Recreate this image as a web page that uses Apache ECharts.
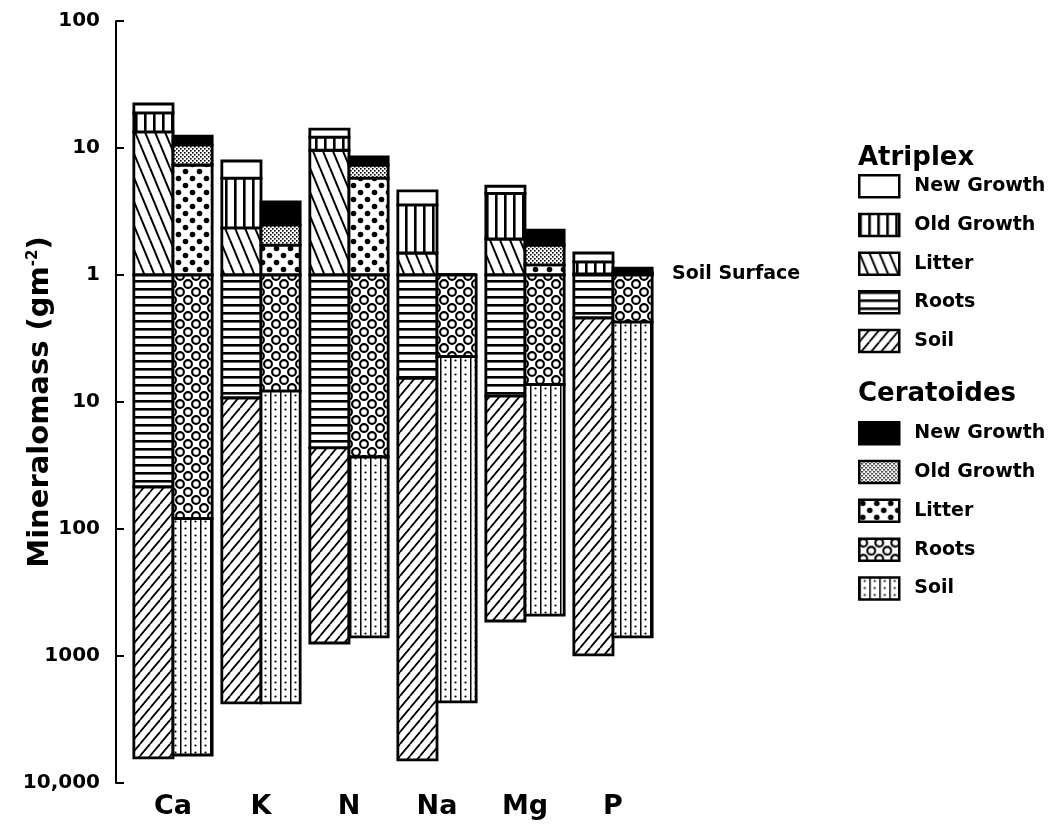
<!DOCTYPE html>
<html>
<head>
<meta charset="utf-8">
<script src="https://cdn.jsdelivr.net/npm/echarts@6/dist/echarts.min.js"></script>
<style>
  html, body { margin: 0; padding: 0; background: #fff; }
  #main { width: 1062px; height: 833px; }
</style>
</head>
<body>
<div id="main"></div>
<script>
var myChart = echarts.init(document.getElementById('main'));

var elements = ['Ca', 'K', 'N', 'Na', 'Mg', 'P'];

// levels in g m-2 (1 = soil surface)
var atriplexLitterTop    = [13.4, 2.35, 9.6, 1.49, 1.92, 1.02];
var atriplexOldGrowthTop = [18.9, 5.8, 12.2, 3.56, 4.4, 1.27];
var atriplexNewGrowthTop = [22.2, 7.9, 14.1, 4.6, 5.0, 1.49];
var atriplexRootsDepth   = [46.7, 9.3, 23, 6.5, 9.0, 2.18];
var atriplexSoilDepth    = [6350, 2340, 790, 6580, 530, 980];

var ceratoidesLitterTop    = [7.35, 1.72, 5.8, 1, 1.2, 1.02];
var ceratoidesOldGrowthTop = [10.6, 2.48, 7.35, 1, 1.72, 1.05];
var ceratoidesNewGrowthTop = [12.4, 3.76, 8.5, 1, 2.26, 1.13];
var ceratoidesRootsDepth   = [83, 8.2, 27.1, 4.4, 7.3, 2.35];
var ceratoidesSoilDepth    = [6020, 2340, 708, 2300, 476, 708];

var SURFACE = 1;
var FONT = 'DejaVu Sans';

// ---- fill patterns ----
function makePattern(w, h, draw) {
  var c = document.createElement('canvas');
  c.width = w; c.height = h;
  var ctx = c.getContext('2d');
  ctx.fillStyle = '#fff';
  ctx.fillRect(0, 0, w, h);
  ctx.fillStyle = '#000';
  ctx.strokeStyle = '#000';
  draw(ctx, w, h);
  return { image: c, repeat: 'repeat' };
}
function diag(ctx, w, h, lw, back) {
  ctx.lineWidth = lw;
  for (var k = -1; k <= 1; k++) {
    ctx.beginPath();
    if (back) { ctx.moveTo(k * w, 0); ctx.lineTo(k * w + w, h); }
    else { ctx.moveTo(k * w, h); ctx.lineTo(k * w + w, 0); }
    ctx.stroke();
  }
}
function dot(ctx, x, y, r) {
  ctx.beginPath(); ctx.arc(x, y, r, 0, Math.PI * 2); ctx.fill();
}
function ring(ctx, x, y, r) {
  ctx.beginPath(); ctx.arc(x, y, r, 0, Math.PI * 2); ctx.stroke();
}
// draws a staggered motif so that it wraps across tile edges
function staggered(ctx, w, h, fn) {
  var pts = [[w / 4, h / 4], [w * 3 / 4, h * 3 / 4]];
  pts.forEach(function (p) {
    for (var i = -1; i <= 1; i++) {
      for (var j = -1; j <= 1; j++) fn(ctx, p[0] + i * w, p[1] + j * h);
    }
  });
}

var patVert = makePattern(9, 4, function (ctx) { ctx.fillRect(0, 0, 2.6, 4); });
var patBack = makePattern(10, 24, function (ctx, w, h) { diag(ctx, w, h, 2, true); });
var patHoriz = makePattern(4, 8, function (ctx) { ctx.fillRect(0, 0, 4, 2.6); });
var patFwd = makePattern(10, 12, function (ctx, w, h) { diag(ctx, w, h, 1.8, false); });
var patStipple = makePattern(4, 4, function (ctx) {
  ctx.fillRect(0, 0, 1.6, 1.6); ctx.fillRect(2, 2, 1.6, 1.6);
});
var patDots = makePattern(14, 14, function (ctx, w, h) {
  staggered(ctx, w, h, function (c, x, y) { dot(c, x, y, 2.8); });
});
var patRings = makePattern(16, 16, function (ctx, w, h) {
  ctx.lineWidth = 2.1;
  staggered(ctx, w, h, function (c, x, y) { ring(c, x, y, 3.9); });
});
var patSoilC = makePattern(10, 7, function (ctx) {
  ctx.fillRect(0, 0, 1.5, 7); dot(ctx, 5.5, 3.5, 1.1);
});

// ---- segments ----
function segRender(side) {
  return function (params, api) {
    var cat = api.value(0);
    var p1 = api.coord([cat, api.value(1)]);
    var p2 = api.coord([cat, api.value(2)]);
    var w = api.size([1, 0], [cat, 1])[0] * 0.445;
    var x = side < 0 ? p1[0] - w : p1[0];
    return {
      type: 'rect',
      shape: { x: x, y: Math.min(p1[1], p2[1]), width: w, height: Math.abs(p2[1] - p1[1]) },
      style: api.style()
    };
  };
}
function seg(name, side, grid, lower, upper, fill) {
  return {
    name: name,
    type: 'custom',
    xAxisIndex: grid,
    yAxisIndex: grid,
    renderItem: segRender(side),
    encode: { x: 0, y: [1, 2] },
    itemStyle: { color: fill, borderColor: '#000', borderWidth: 2.8 },
    data: elements.map(function (e, i) {
      return [i, lower === SURFACE ? SURFACE : lower[i], upper[i]];
    })
  };
}

var legendText = {
  fontFamily: FONT, fontWeight: 'bold', fontSize: 19, color: '#000',
  padding: [0, 0, 0, 10]
};
function legendFormatter(name) { return name.split('|')[1]; }

var axisLabelStyle = { fontFamily: FONT, fontWeight: 'bold', fontSize: 20, color: '#000', margin: 16 };
var tickStyle = { show: true, inside: true, length: 8, lineStyle: { color: '#000', width: 2 } };

var option = {
  animation: false,
  backgroundColor: '#fff',
  grid: [
    { left: 129, width: 528, top: 21, height: 254 },
    { left: 129, width: 528, top: 275, height: 508 }
  ],
  xAxis: [
    { gridIndex: 0, type: 'category', data: elements, show: false },
    {
      gridIndex: 1, type: 'category', data: elements,
      axisLine: { show: false }, axisTick: { show: false },
      axisLabel: { fontFamily: FONT, fontWeight: 'bold', fontSize: 27, color: '#000', margin: 10 }
    }
  ],
  yAxis: [
    {
      gridIndex: 0, type: 'log', logBase: 10, min: 1, max: 100, offset: 13,
      axisLine: { show: true, lineStyle: { color: '#000', width: 2 } },
      axisTick: tickStyle,
      minorTick: { show: false },
      splitLine: { show: false },
      axisLabel: Object.assign({}, axisLabelStyle, {
        formatter: function (v) { return v === 1 ? '' : String(v); }
      })
    },
    {
      gridIndex: 1, type: 'log', logBase: 10, min: 1, max: 10000, inverse: true, offset: 13,
      axisLine: { show: true, lineStyle: { color: '#000', width: 2 } },
      axisTick: tickStyle,
      minorTick: { show: false },
      splitLine: { show: false },
      axisLabel: Object.assign({}, axisLabelStyle, {
        formatter: function (v) { return v >= 10000 ? '10,000' : String(v); }
      })
    }
  ],
  legend: [
    {
      orient: 'vertical', left: 858, top: 174, padding: 0, icon: 'rect',
      itemWidth: 40, itemHeight: 22, itemGap: 14.2,
      itemStyle: { borderColor: '#000', borderWidth: 2.5 },
      selectedMode: false,
      textStyle: legendText, formatter: legendFormatter,
      data: ['A|New Growth', 'A|Old Growth', 'A|Litter', 'A|Roots', 'A|Soil']
    },
    {
      orient: 'vertical', left: 858, top: 421, padding: 0, icon: 'rect',
      itemWidth: 40, itemHeight: 22, itemGap: 14.3,
      itemStyle: { borderColor: '#000', borderWidth: 2.5 },
      selectedMode: false,
      textStyle: legendText, formatter: legendFormatter,
      data: ['C|New Growth', 'C|Old Growth', 'C|Litter', 'C|Roots', 'C|Soil']
    }
  ],
  graphic: [
    {
      type: 'text', x: 40, y: 402, rotation: Math.PI / 2,
      style: {
        text: '{m|Mineralomass (gm}{s|-2}{m|)}',
        align: 'center', verticalAlign: 'middle',
        rich: {
          m: { fontFamily: FONT, fontWeight: 'bold', fontSize: 29, fill: '#000' },
          s: { fontFamily: FONT, fontWeight: 'bold', fontSize: 15, fill: '#000', verticalAlign: 'top' }
        }
      }
    },
    {
      type: 'text', x: 672, y: 274,
      style: { text: 'Soil Surface', fontFamily: FONT, fontWeight: 'bold', fontSize: 19, fill: '#000', verticalAlign: 'middle' }
    },
    {
      type: 'text', x: 858, y: 158,
      style: { text: 'Atriplex', fontFamily: FONT, fontWeight: 'bold', fontSize: 26, fill: '#000', verticalAlign: 'middle' }
    },
    {
      type: 'text', x: 858, y: 394,
      style: { text: 'Ceratoides', fontFamily: FONT, fontWeight: 'bold', fontSize: 26, fill: '#000', verticalAlign: 'middle' }
    }
  ],
  series: [
    seg('A|Litter', -1, 0, SURFACE, atriplexLitterTop, patBack),
    seg('A|Old Growth', -1, 0, atriplexLitterTop, atriplexOldGrowthTop, patVert),
    seg('A|New Growth', -1, 0, atriplexOldGrowthTop, atriplexNewGrowthTop, '#fff'),
    seg('A|Roots', -1, 1, SURFACE, atriplexRootsDepth, patHoriz),
    seg('A|Soil', -1, 1, atriplexRootsDepth, atriplexSoilDepth, patFwd),
    seg('C|Litter', 1, 0, SURFACE, ceratoidesLitterTop, patDots),
    seg('C|Old Growth', 1, 0, ceratoidesLitterTop, ceratoidesOldGrowthTop, patStipple),
    seg('C|New Growth', 1, 0, ceratoidesOldGrowthTop, ceratoidesNewGrowthTop, '#000'),
    seg('C|Roots', 1, 1, SURFACE, ceratoidesRootsDepth, patRings),
    seg('C|Soil', 1, 1, ceratoidesRootsDepth, ceratoidesSoilDepth, patSoilC)
  ]
};

option && myChart.setOption(option);
</script>
</body>
</html>
